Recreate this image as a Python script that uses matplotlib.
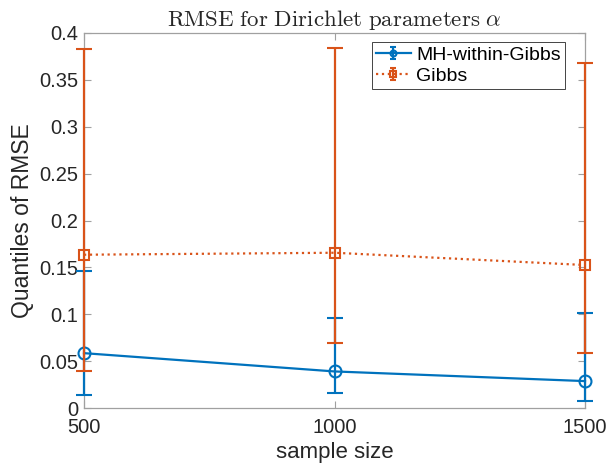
import matplotlib
matplotlib.use('Agg')
import matplotlib.pyplot as plt
import numpy as np
from matplotlib.container import ErrorbarContainer
from matplotlib.legend_handler import HandlerErrorbar
from matplotlib.lines import Line2D

# data
sample_size = [500, 1000, 1500]
mh_mid = [0.0585, 0.039, 0.0287]
mh_low = [0.0142, 0.0163, 0.0071]
mh_high = [0.146, 0.096, 0.101]
gibbs_mid = [0.1635, 0.1656, 0.1525]
gibbs_low = [0.040, 0.069, 0.0592]
gibbs_high = [0.383, 0.3844, 0.3677]
x_ticks = [500, 1000, 1500]
y_ticks = [0, 0.05, 0.1, 0.15, 0.2, 0.25, 0.3, 0.35, 0.4]
y_ticklabels = ['0', '0.05', '0.1', '0.15', '0.2', '0.25', '0.3', '0.35', '0.4']

plt.rcParams['font.family'] = ['Liberation Sans', 'DejaVu Sans']
plt.rcParams['mathtext.fontset'] = 'cm'

blue = '#0072BD'
orange = '#D95319'
text_col = '#262626'
axis_col = '#a0a0a0'

fig = plt.figure(figsize=(6.1, 4.66), dpi=100, facecolor='white')
# axes box: x 84..585 px, y 33..408 px
ax = fig.add_axes([84 / 610, 1 - 408 / 466, 501 / 610, 375 / 466])


def asym(mid, low, high):
    mid = np.array(mid)
    return np.vstack([mid - np.array(low), np.array(high) - mid])


def draw(mid, low, high, color, ls, marker, ms, label, z):
    cont = ax.errorbar(sample_size, mid, yerr=asym(mid, low, high),
                       color=color, linestyle=ls, marker=marker, markersize=ms,
                       markerfacecolor='none', markeredgewidth=1.5,
                       linewidth=1.6, capsize=5.8, capthick=1.6,
                       elinewidth=1.6, label=label, zorder=z)
    for art in cont.get_children():
        art.set_clip_on(False)
    return cont


draw(mh_mid, mh_low, mh_high, blue, '-', 'o', 8.6, 'MH-within-Gibbs', 3)
draw(gibbs_mid, gibbs_low, gibbs_high, orange, ':', 's', 7.5, 'Gibbs', 4)

ax.set_xlim(500, 1500)
ax.set_ylim(0, 0.4)
ax.set_xticks(x_ticks)
ax.set_xticklabels([str(v) for v in x_ticks])
ax.set_yticks(y_ticks)
ax.set_yticklabels(y_ticklabels)

for s in ax.spines.values():
    s.set_color(axis_col)
    s.set_linewidth(0.9)
    s.set_zorder(0)
ax.tick_params(direction='in', top=True, right=True, length=5,
               color=axis_col, labelsize=14.5, labelcolor=text_col)
ax.tick_params(axis='x', pad=7)
ax.tick_params(axis='y', pad=4)

ax.set_xlabel('sample size', fontsize=16, color=text_col, labelpad=4)
ax.set_ylabel('Quantiles of RMSE', fontsize=16.5, color=text_col, labelpad=4)
ax.set_title(r'$\mathrm{RMSE\ for\ Dirichlet\ parameters}\ \alpha$',
             fontsize=16.5, color=text_col, pad=5)

leg = ax.legend(loc='upper right', bbox_to_anchor=(481 / 501, 366 / 375),
                borderaxespad=0, fontsize=14, frameon=True, fancybox=False,
                borderpad=0.2, handlelength=1.8, handletextpad=0.3,
                labelspacing=0.2, markerscale=0.5, framealpha=1,
                handler_map={ErrorbarContainer: HandlerErrorbar(yerr_size=0.3)})
leg.get_frame().set_edgecolor(text_col)
leg.get_frame().set_linewidth(0.6)
# smaller caps in the legend handles, like the reference
for ln in leg.findobj(Line2D):
    if ln.get_marker() == '_':
        ln.set_markersize(5)

fig.savefig('out.png', dpi=100)
